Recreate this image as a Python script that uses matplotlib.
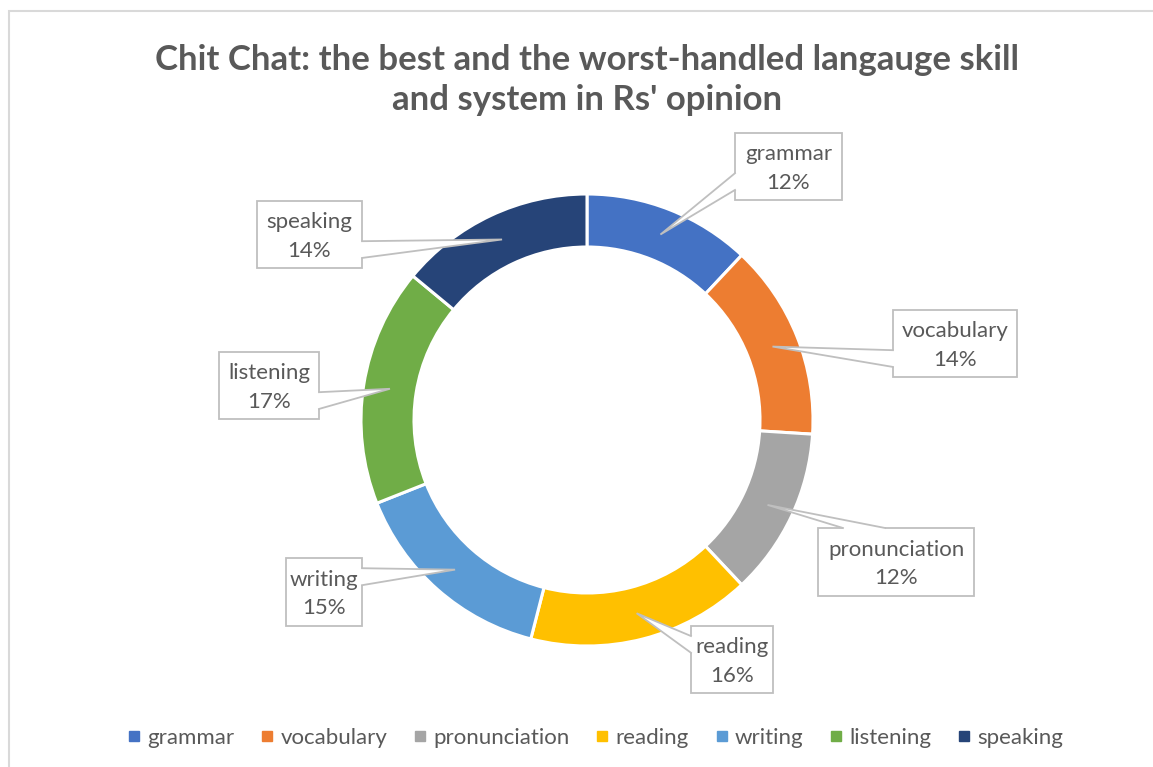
import numpy as np
import matplotlib
matplotlib.use('Agg')
import matplotlib.pyplot as plt
from matplotlib.patches import Rectangle, Polygon
from matplotlib.lines import Line2D

W, H = 1153, 767

categories = ['grammar', 'vocabulary', 'pronunciation', 'reading', 'writing', 'listening', 'speaking']
values = [12, 14, 12, 16, 15, 17, 14]
colors = ['#4472C4', '#ED7D31', '#A5A5A5', '#FFC000', '#5B9BD5', '#70AD47', '#264478']
title = "Chit Chat: the best and the worst-handled langauge skill\nand system in Rs' opinion"

# callout boxes (pixel coords, y from top): left, top, width, height, side the pointer leaves from
boxes = [
    (735, 133, 107, 67, 'left'),
    (893, 310, 124, 67, 'left'),
    (818, 528, 156, 68, 'top'),
    (691, 626, 82, 67, 'left'),
    (286, 558, 76, 68, 'right'),
    (219, 352, 100, 67, 'right'),
    (257, 201, 105, 67, 'right'),
]

txt = '#595959'
edge = '#BFBFBF'
plt.rcParams['font.family'] = ['Lato', 'DejaVu Sans']

cx, cy = 587, H - 420
R = 226
ring = 53

fig = plt.figure(figsize=(W / 100, H / 100), dpi=100)
ax = fig.add_axes([0, 0, 1, 1])
ax.set_xlim(0, W)
ax.set_ylim(0, H)
ax.set_aspect('equal')
ax.axis('off')

# chart frame (only top and left edge are in view)
ax.add_patch(Rectangle((9, -20), W + 20, H - 11 + 20, fill=False, ec='#D9D9D9', lw=1.5))

wedges, _ = ax.pie(values, colors=colors, startangle=90, counterclock=False,
                   center=(cx, cy), radius=R,
                   wedgeprops=dict(width=ring, edgecolor='white', linewidth=2.2))
ax.set_xlim(0, W)
ax.set_ylim(0, H)

total = sum(values)
cum = np.cumsum([0] + values[:-1])
for i, (name, v) in enumerate(zip(categories, values)):
    mid = (cum[i] + v / 2) / total * 2 * np.pi
    rm = R - ring / 2
    tip = (cx + rm * np.sin(mid), cy + rm * np.cos(mid))
    l, t, bw, bh, side = boxes[i]
    b = H - t - bh
    # base of the pointer on the box edge
    if side in ('left', 'right'):
        x0 = l if side == 'left' else l + bw
        bcy = b + bh / 2
        if tip[1] < bcy:
            y1, y2 = b + 0.15 * bh, b + 0.4 * bh
        else:
            y1, y2 = b + bh - 0.4 * bh, b + bh - 0.15 * bh
        p1, p2 = (x0, y1), (x0, y2)
        d = 2 if side == 'left' else -2
        q1, q2 = (x0 + d, y1), (x0 + d, y2)
    else:
        y0 = b + bh if side == 'top' else b
        if tip[0] < l + bw / 2:
            x1, x2 = l + 0.16 * bw, l + 0.43 * bw
        else:
            x1, x2 = l + bw - 0.43 * bw, l + bw - 0.16 * bw
        p1, p2 = (x1, y0), (x2, y0)
        d = -2 if side == 'top' else 2
        q1, q2 = (x1, y0 + d), (x2, y0 + d)
    ax.add_patch(Rectangle((l, b), bw, bh, fc='white', ec=edge, lw=1.3, zorder=4))
    ax.add_patch(Polygon([tip, p1, q1, q2, p2], closed=True, fc='white', ec='none', zorder=5))
    ax.plot([p1[0], tip[0], p2[0]], [p1[1], tip[1], p2[1]], color=edge, lw=1.3, zorder=6,
            solid_joinstyle='miter')
    ax.text(l + bw / 2, b + bh / 2 - 2, f'{name}\n{v}%', ha='center', va='center',
            fontsize=16, color=txt, linespacing=1.55, zorder=7)

ax.text(587, H - 80, title, ha='center', va='center', fontsize=25, fontweight='bold',
        color=txt, linespacing=1.27)

handles = [Line2D([], [], marker='s', ls='none', color=c, markersize=7) for c in colors]
fig.legend(handles, categories, loc='center', bbox_to_anchor=(596 / W, 1 - 738 / H),
           ncol=7, frameon=False, fontsize=16, handlelength=0.5, handletextpad=0.35,
           columnspacing=1.22, labelcolor=txt)

fig.savefig('out.png', dpi=100)
